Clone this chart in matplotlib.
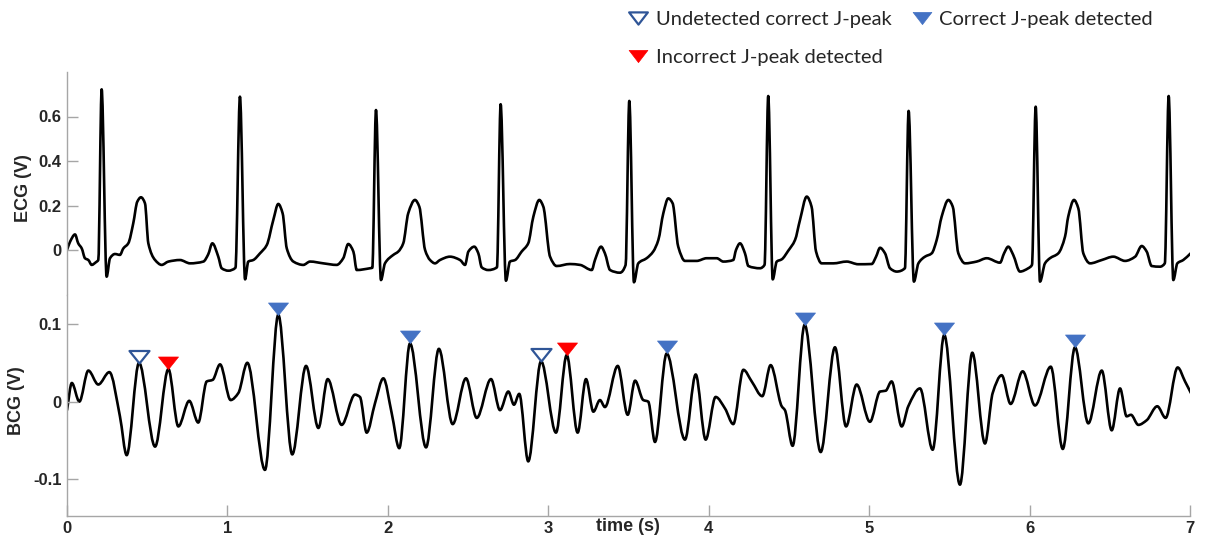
import numpy as np
import matplotlib
matplotlib.use("Agg")
import matplotlib.pyplot as plt
from matplotlib.path import Path
from matplotlib.patches import PathPatch
from matplotlib.lines import Line2D

# ECG trace, time (s) and amplitude (V)
ecg_t = [0.000, 0.019, 0.050, 0.070, 0.092, 0.112, 0.133, 0.154, 0.180, 0.195,
         0.216, 0.247, 0.268, 0.299, 0.330, 0.351, 0.382, 0.413, 0.438, 0.461,
         0.486, 0.507, 0.549, 0.590, 0.632, 0.704, 0.767, 0.850, 0.880, 0.906,
         0.943, 0.964, 1.006, 1.050, 1.078, 1.110, 1.130, 1.161, 1.203, 1.245,
         1.286, 1.317, 1.344, 1.370, 1.411, 1.473, 1.515, 1.598, 1.681, 1.722,
         1.753, 1.785, 1.806, 1.889, 1.903, 1.926, 1.957, 1.982, 2.034, 2.065,
         2.096, 2.127, 2.169, 2.196, 2.232, 2.263, 2.294, 2.325, 2.387, 2.450,
         2.481, 2.502, 2.539, 2.564, 2.585, 2.626, 2.680, 2.703, 2.736, 2.761,
         2.793, 2.834, 2.875, 2.907, 2.944, 2.969, 3.011, 3.052, 3.135, 3.198,
         3.271, 3.291, 3.329, 3.353, 3.385, 3.447, 3.482, 3.505, 3.534, 3.561,
         3.613, 3.654, 3.686, 3.717, 3.748, 3.775, 3.810, 3.852, 3.925, 3.987,
         4.050, 4.091, 4.153, 4.170, 4.195, 4.226, 4.247, 4.320, 4.348, 4.371,
         4.399, 4.424, 4.455, 4.496, 4.538, 4.569, 4.611, 4.641, 4.669, 4.704,
         4.777, 4.860, 4.932, 5.016, 5.043, 5.068, 5.099, 5.130, 5.172, 5.223,
         5.246, 5.279, 5.307, 5.348, 5.390, 5.421, 5.452, 5.494, 5.521, 5.556,
         5.598, 5.670, 5.733, 5.816, 5.841, 5.867, 5.898, 5.940, 5.992, 6.015,
         6.038, 6.065, 6.096, 6.127, 6.179, 6.221, 6.241, 6.277, 6.304, 6.335,
         6.377, 6.450, 6.522, 6.595, 6.658, 6.699, 6.730, 6.761, 6.813, 6.843,
         6.867, 6.896, 6.921, 6.958, 7.004]
ecg_v = [0.000, 0.037, 0.070, 0.030, 0.007, -0.037, -0.045, -0.067, -0.055, -0.045,
         0.722, -0.120, -0.037, -0.018, -0.022, 0.007, 0.030, 0.120, 0.217, 0.237,
         0.210, 0.030, -0.045, -0.067, -0.052, -0.045, -0.060, -0.052, -0.020, 0.030,
         -0.030, -0.082, -0.093, -0.080, 0.689, -0.132, -0.052, -0.045, -0.015, 0.022,
         0.135, 0.207, 0.165, 0.007, -0.052, -0.067, -0.052, -0.060, -0.067, -0.037,
         0.027, -0.007, -0.090, -0.082, -0.080, 0.629, -0.135, -0.060, -0.022, -0.007,
         0.030, 0.165, 0.225, 0.195, 0.000, -0.045, -0.060, -0.045, -0.030, -0.045,
         -0.067, -0.007, 0.015, -0.015, -0.078, -0.090, -0.078, 0.655, -0.138, -0.052,
         -0.045, -0.007, 0.030, 0.150, 0.225, 0.195, -0.030, -0.072, -0.063, -0.067,
         -0.090, -0.045, 0.015, -0.015, -0.090, -0.102, -0.067, 0.670, -0.145, -0.060,
         -0.037, -0.007, 0.045, 0.165, 0.232, 0.210, 0.015, -0.049, -0.049, -0.037,
         -0.037, -0.052, -0.045, 0.000, 0.030, -0.015, -0.072, -0.082, -0.067, 0.692,
         -0.132, -0.052, -0.042, -0.003, 0.045, 0.135, 0.240, 0.195, -0.007, -0.060,
         -0.060, -0.052, -0.064, -0.063, -0.030, 0.010, -0.015, -0.082, -0.097, -0.082,
         0.625, -0.142, -0.060, -0.030, -0.015, 0.045, 0.150, 0.225, 0.195, -0.015,
         -0.060, -0.052, -0.037, -0.057, -0.015, 0.015, -0.022, -0.097, -0.082, -0.067,
         0.644, -0.142, -0.060, -0.037, -0.015, 0.060, 0.150, 0.225, 0.187, -0.015,
         -0.060, -0.045, -0.030, -0.049, -0.030, 0.018, -0.007, -0.072, -0.075, -0.060,
         0.692, -0.135, -0.060, -0.045, -0.015]

# BCG trace, turning points of the filtered signal
bcg_t = [0.000, 0.030, 0.077, 0.133, 0.195, 0.264, 0.330, 0.372, 0.449, 0.549,
         0.632, 0.694, 0.762, 0.818, 0.871, 0.908, 0.954, 1.020, 1.068, 1.124,
         1.234, 1.317, 1.404, 1.490, 1.567, 1.625, 1.712, 1.795, 1.826, 1.868,
         1.920, 1.972, 2.024, 2.071, 2.138, 2.238, 2.318, 2.404, 2.487, 2.554,
         2.643, 2.699, 2.751, 2.786, 2.819, 2.875, 2.955, 3.048, 3.115, 3.183,
         3.235, 3.281, 3.322, 3.353, 3.433, 3.495, 3.541, 3.592, 3.623, 3.665,
         3.738, 3.852, 3.919, 3.981, 4.043, 4.102, 4.153, 4.216, 4.268, 4.334,
         4.386, 4.455, 4.475, 4.523, 4.598, 4.698, 4.787, 4.856, 4.922, 5.005,
         5.068, 5.103, 5.140, 5.203, 5.244, 5.317, 5.396, 5.468, 5.566, 5.643,
         5.722, 5.770, 5.826, 5.882, 5.957, 6.034, 6.132, 6.207, 6.283, 6.366,
         6.450, 6.512, 6.564, 6.605, 6.632, 6.678, 6.730, 6.796, 6.848, 6.923,
         6.969, 7.006]
bcg_v = [-0.011, 0.024, 0.000, 0.040, 0.022, 0.038, -0.019, -0.069, 0.050, -0.058,
         0.042, -0.032, 0.001, -0.027, 0.026, 0.028, 0.048, 0.002, 0.011, 0.050,
         -0.088, 0.112, -0.068, 0.046, -0.034, 0.029, -0.030, 0.009, 0.006, -0.040,
         -0.002, 0.030, -0.015, -0.060, 0.075, -0.059, 0.068, -0.029, 0.030, -0.021,
         0.029, -0.011, 0.013, -0.004, 0.010, -0.077, 0.052, -0.040, 0.060, -0.040,
         0.029, -0.013, 0.002, -0.007, 0.046, -0.017, 0.027, 0.002, 0.000, -0.052,
         0.062, -0.049, 0.035, -0.049, 0.006, -0.009, -0.029, 0.041, 0.026, 0.007,
         0.047, -0.006, -0.011, -0.057, 0.099, -0.065, 0.070, -0.032, 0.022, -0.026,
         0.013, 0.014, 0.026, -0.032, -0.006, 0.017, -0.062, 0.086, -0.107, 0.063,
         -0.054, 0.011, 0.034, -0.003, 0.039, -0.005, 0.045, -0.061, 0.070, -0.028,
         0.040, -0.037, 0.017, -0.019, -0.017, -0.030, -0.024, -0.006, -0.021, 0.044,
         0.026, 0.011]

# J-peak annotations on the BCG
correct_t = [1.317, 2.138, 3.738, 4.598, 5.468, 6.283]
correct_v = [0.112, 0.075, 0.062, 0.099, 0.086, 0.070]
missed_t = [0.449, 2.955]
missed_v = [0.050, 0.052]
wrong_t = [0.632, 3.115]
wrong_v = [0.042, 0.060]

x_ticks = [0, 1, 2, 3, 4, 5, 6, 7]
ecg_ticks = [0, 0.2, 0.4, 0.6]
ecg_ticklabels = ["0", "0.2", "0.4", "0.6"]
bcg_ticks = [-0.1, 0, 0.1]
bcg_ticklabels = ["-0.1", "0", "0.1"]

BLUE = "#4472C4"
DARK_BLUE = "#2F5597"
RED = "#FF0000"
AXIS_GREY = "#A6A6A6"
TEXT = "#262626"

plt.rcParams["font.family"] = ["Liberation Sans", "DejaVu Sans"]


def smooth_path(x, y):
    # monotone cubic segments through the samples (flat at every turning point)
    x = np.asarray(x, float)
    y = np.asarray(y, float)
    h = np.diff(x)
    d = np.diff(y) / h
    m = np.zeros_like(y)
    for i in range(1, len(x) - 1):
        if d[i - 1] * d[i] > 0:
            w1 = 2 * h[i] + h[i - 1]
            w2 = h[i] + 2 * h[i - 1]
            m[i] = (w1 + w2) / (w1 / d[i - 1] + w2 / d[i])
    m[0], m[-1] = d[0], d[-1]
    verts = [(x[0], y[0])]
    codes = [Path.MOVETO]
    for i in range(len(h)):
        verts += [(x[i] + h[i] / 3, y[i] + m[i] * h[i] / 3),
                  (x[i + 1] - h[i] / 3, y[i + 1] - m[i + 1] * h[i] / 3),
                  (x[i + 1], y[i + 1])]
        codes += [Path.CURVE4] * 3
    return Path(verts, codes)


def trace(ax, t, v):
    ax.add_patch(PathPatch(smooth_path(t, v), facecolor="none", edgecolor="black",
                           lw=1.9, joinstyle="round", capstyle="round"))


# downward triangle with its tip on the data point
tip_marker = Path([(-0.8, 1.0), (0.8, 1.0), (0.0, 0.0), (-0.8, 1.0)],
                  [Path.MOVETO, Path.LINETO, Path.LINETO, Path.CLOSEPOLY])
# same shape centred, for the legend
mid_marker = Path([(-1.0, 0.65), (1.0, 0.65), (0.0, -0.65), (-1.0, 0.65)],
                  [Path.MOVETO, Path.LINETO, Path.LINETO, Path.CLOSEPOLY])

fig = plt.figure(figsize=(12.06, 5.44), dpi=100)
W, H = 1206, 544
left, right = 67, 1190
ax_ecg = fig.add_axes([left / W, 1 - 294.5 / H, (right - left) / W, (294.5 - 72) / H])
ax_bcg = fig.add_axes([left / W, 1 - 515.7 / H, (right - left) / W, (515.7 - 294.5) / H])

trace(ax_ecg, ecg_t, ecg_v)
trace(ax_bcg, bcg_t, bcg_v)

ms = 18
ax_bcg.plot(missed_t, missed_v, ls="none", marker=tip_marker, ms=ms,
            mfc="white", mec=DARK_BLUE, mew=1.6, zorder=5)
ax_bcg.plot(wrong_t, wrong_v, ls="none", marker=tip_marker, ms=ms,
            mfc=RED, mec=RED, mew=0.5, zorder=5)
ax_bcg.plot(correct_t, correct_v, ls="none", marker=tip_marker, ms=ms,
            mfc=BLUE, mec=BLUE, mew=0.5, zorder=5)

for ax in (ax_ecg, ax_bcg):
    ax.set_xlim(0, 7)
    for side in ("top", "right"):
        ax.spines[side].set_visible(False)
    for side in ("left", "bottom"):
        ax.spines[side].set_color(AXIS_GREY)
        ax.spines[side].set_linewidth(1.0)
    ax.tick_params(direction="in", length=8, width=1.0, color=AXIS_GREY,
                   labelcolor=TEXT, labelsize=12, pad=4)

ax_ecg.spines["bottom"].set_visible(False)
ax_ecg.tick_params(axis="x", bottom=False, labelbottom=False)
ax_ecg.set_ylim(-0.2, 0.8)
ax_ecg.set_yticks(ecg_ticks, ecg_ticklabels, fontweight="bold")
ax_ecg.set_ylabel("ECG (V)", fontsize=13, fontweight="bold", color=TEXT)
ax_ecg.yaxis.set_label_coords(-0.031, 0.48)

ax_bcg.set_ylim(-0.147, 0.138)
ax_bcg.set_yticks(bcg_ticks, bcg_ticklabels, fontweight="bold")
ax_bcg.set_xticks(x_ticks, [str(v) for v in x_ticks], fontweight="bold")
ax_bcg.set_ylabel("BCG (V)", fontsize=13, fontweight="bold", color=TEXT)
ax_bcg.yaxis.set_label_coords(-0.037, 0.52)
ax_bcg.set_xlabel("time (s)", fontsize=13, fontweight="bold", color=TEXT)
ax_bcg.xaxis.set_label_coords(0.4996, -0.051)
ax_bcg.xaxis.label.set_va("center")

lms = 13.5
handles = [
    Line2D([], [], ls="none", marker=mid_marker, ms=lms, mfc="white", mec=DARK_BLUE, mew=1.6),
    Line2D([], [], ls="none", marker=mid_marker, ms=lms, mfc=RED, mec=RED, mew=0.5),
    Line2D([], [], ls="none", marker=mid_marker, ms=lms, mfc=BLUE, mec=BLUE, mew=0.5),
]
labels = ["Undetected correct J-peak", "Incorrect J-peak detected", "Correct J-peak detected"]
fig.legend(handles, labels, ncol=2, loc="upper left", bbox_to_anchor=(628.4 / W, 1 - 11 / H),
           frameon=False, borderpad=0, borderaxespad=0, handlelength=1.0,
           handletextpad=0.35, columnspacing=1.0, labelspacing=1.05,
           prop={"family": ["Lato", "DejaVu Sans"], "size": 14.5}, labelcolor=TEXT)

fig.savefig("out.png", dpi=100)
